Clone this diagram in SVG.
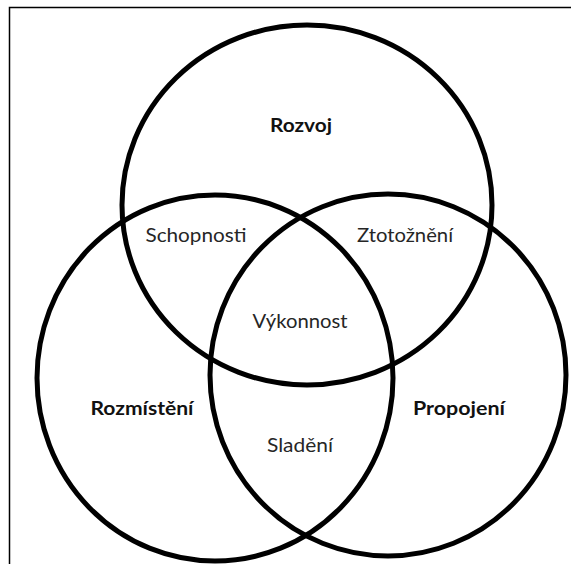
<svg xmlns="http://www.w3.org/2000/svg" width="571" height="564" viewBox="0 0 571 564">
  <style>
    .ring { fill: none; stroke: #000; stroke-width: 5; }
    .frame { fill: none; stroke: #000; stroke-width: 1.5; }
    .lbl { font-family: Lato, "Open Sans", "Noto Sans", sans-serif; font-size: 19px; fill: #262626; text-anchor: middle; }
    .bold { font-weight: bold; fill: #111; }
  </style>
  <rect width="571" height="564" fill="#fff"/>
  <path class="frame" d="M9.5,564 V7.5 H571"/>
  <g id="connectors"/>
  <g id="rozvoj">
    <ellipse class="ring" cx="307" cy="205" rx="185" ry="180"/>
    <text class="lbl bold" x="301" y="132" textLength="62" lengthAdjust="spacingAndGlyphs">Rozvoj</text>
  </g>
  <g id="rozmisteni">
    <ellipse class="ring" cx="215" cy="378" rx="178" ry="183"/>
    <text class="lbl bold" x="142" y="415" textLength="103" lengthAdjust="spacingAndGlyphs">Rozmístění</text>
  </g>
  <g id="propojeni">
    <ellipse class="ring" cx="388" cy="375" rx="178" ry="181"/>
    <text class="lbl bold" x="459" y="415" textLength="92" lengthAdjust="spacingAndGlyphs">Propojení</text>
  </g>
  <g id="schopnosti">
    <text class="lbl" x="196" y="242" textLength="101" lengthAdjust="spacingAndGlyphs">Schopnosti</text>
  </g>
  <g id="ztotozneni">
    <text class="lbl" x="405" y="242" textLength="96" lengthAdjust="spacingAndGlyphs">Ztotožnění</text>
  </g>
  <g id="vykonnost">
    <text class="lbl" x="300" y="328" textLength="95" lengthAdjust="spacingAndGlyphs">Výkonnost</text>
  </g>
  <g id="sladeni">
    <text class="lbl" x="300" y="452" textLength="66" lengthAdjust="spacingAndGlyphs">Sladění</text>
  </g>
</svg>
